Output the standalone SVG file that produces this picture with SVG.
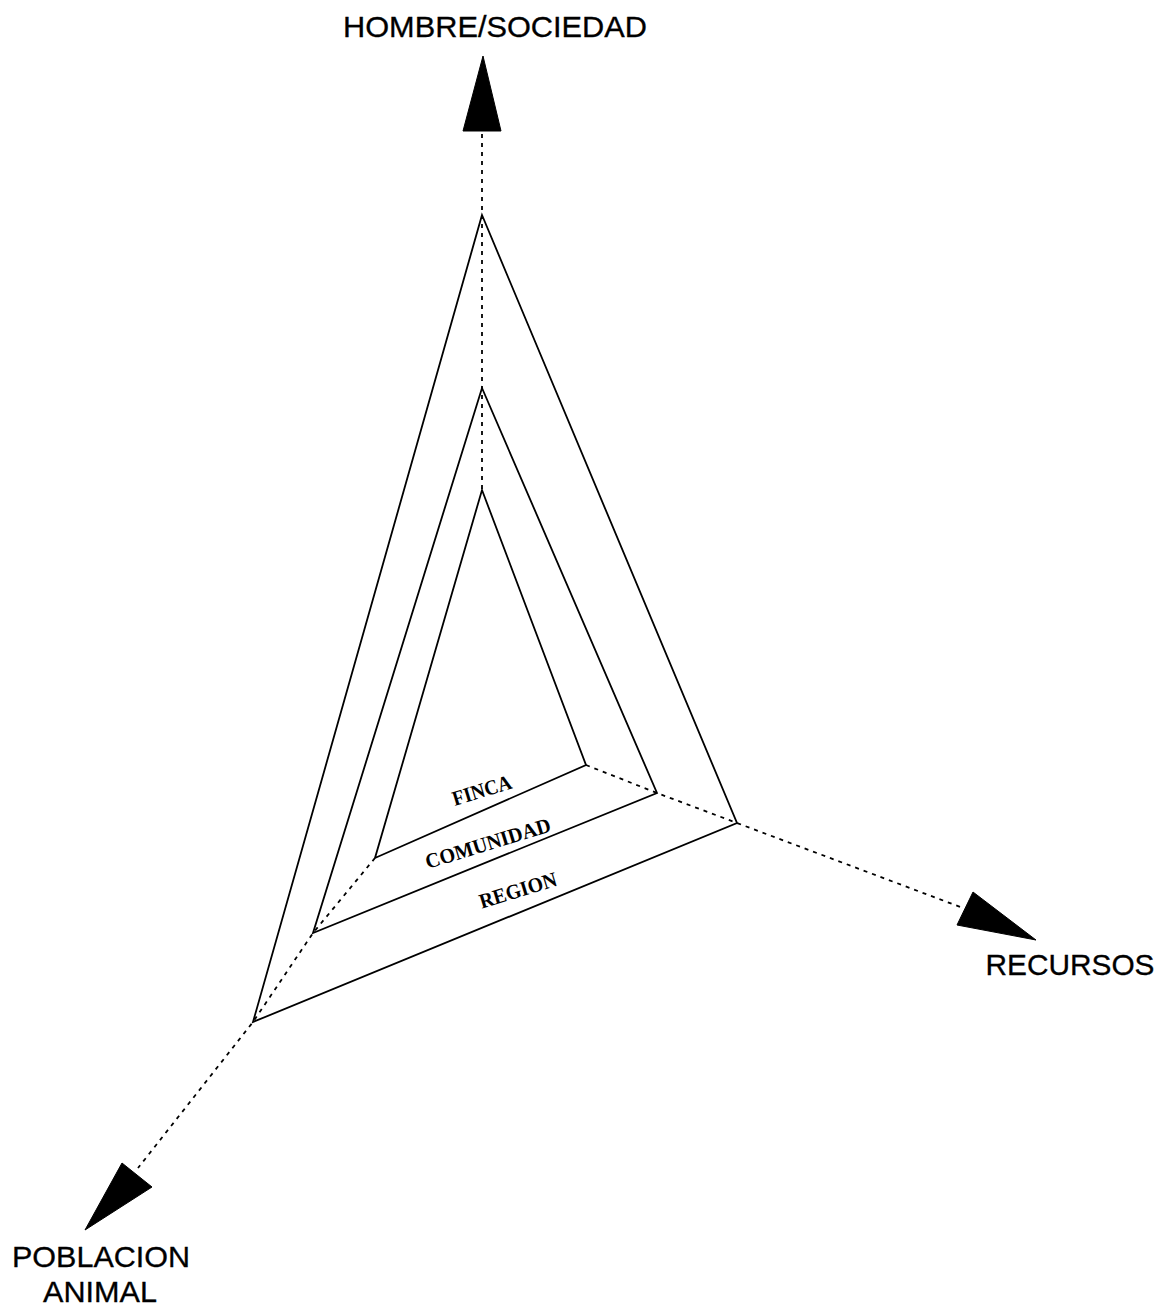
<svg xmlns="http://www.w3.org/2000/svg" width="1168" height="1308" viewBox="0 0 1168 1308">
<style>
.tri{fill:none;stroke:#000;stroke-width:1.8;stroke-linejoin:miter}
.dash{fill:none;stroke:#000;stroke-width:1.8;stroke-dasharray:4 5}
.head{fill:#000;stroke:#000;stroke-width:1}
.axis{font-family:"Liberation Sans",Arial,sans-serif;font-size:29px;fill:#000;stroke:#000;stroke-width:0.3}
.lvl{font-family:"Liberation Serif","Times New Roman",serif;font-weight:bold;font-size:21px;fill:#000}
</style>
<rect width="1168" height="1308" fill="#fff"/>
<g id="connectors">
<polyline class="dash" points="482,134 482,215 482,388 482,490"/>
<polyline class="dash" points="586,765 657,793 737,823 963,908"/>
<polyline class="dash" points="375,858 313,933 253,1022 138,1168"/>
<polygon class="head" points="483,56 463,131 501,131"/>
<polygon class="head" points="1036,940 973,892 957,925"/>
<polygon class="head" points="85,1230 122,1163 152,1187"/>
</g>
<g id="region">
<polygon class="tri" points="482,215 737,823 253,1022"/>
<text class="lvl" x="520" y="897" text-anchor="middle" textLength="80" lengthAdjust="spacingAndGlyphs" transform="rotate(-17 520 897)">REGION</text>
</g>
<g id="comunidad">
<polygon class="tri" points="482,388 657,793 313,933"/>
<text class="lvl" x="490" y="850" text-anchor="middle" textLength="130" lengthAdjust="spacingAndGlyphs" transform="rotate(-17 490 850)">COMUNIDAD</text>
</g>
<g id="finca">
<polygon class="tri" points="482,490 586,765 375,858"/>
<text class="lvl" x="484" y="797" text-anchor="middle" textLength="61" lengthAdjust="spacingAndGlyphs" transform="rotate(-17 484 797)">FINCA</text>
</g>
<g id="hombre">
<text class="axis" x="495" y="37" text-anchor="middle" textLength="304" lengthAdjust="spacingAndGlyphs">HOMBRE/SOCIEDAD</text>
</g>
<g id="recursos">
<text class="axis" x="1070" y="975" text-anchor="middle" textLength="169" lengthAdjust="spacingAndGlyphs">RECURSOS</text>
</g>
<g id="poblacion">
<text class="axis" x="101" y="1267" text-anchor="middle" textLength="178" lengthAdjust="spacingAndGlyphs">POBLACION</text>
<text class="axis" x="100" y="1302" text-anchor="middle" textLength="114" lengthAdjust="spacingAndGlyphs">ANIMAL</text>
</g>
</svg>
